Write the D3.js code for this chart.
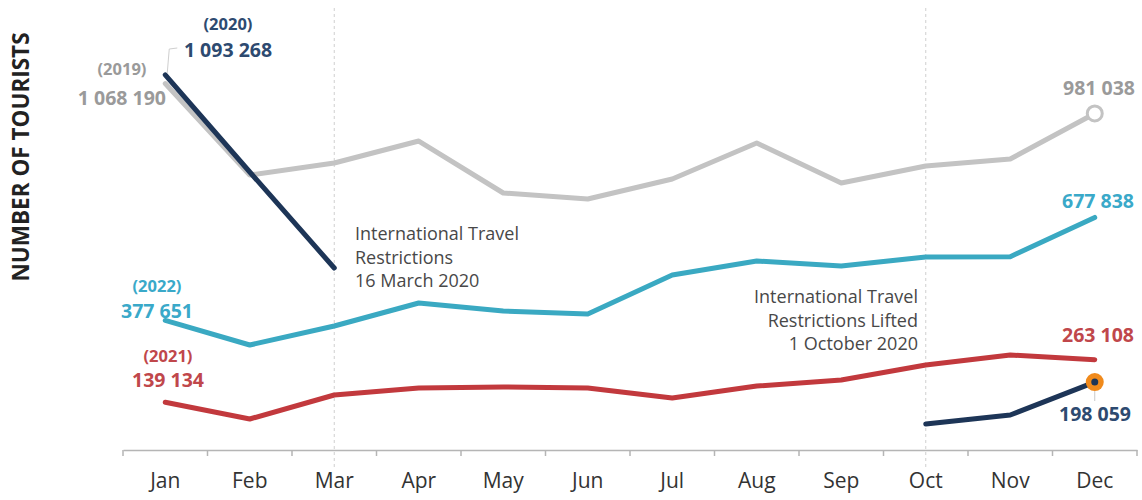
<!DOCTYPE html>
<html>
<head>
<meta charset="utf-8">
<script src="https://cdn.jsdelivr.net/npm/d3@7"></script>
<style>
  body { margin: 0; background: #fff; }
  svg { font-family: "Open Sans", "Noto Sans", sans-serif; }
</style>
</head>
<body>
<svg id="chart" width="1142" height="500"></svg>
<script>
const months = ["Jan", "Feb", "Mar", "Apr", "May", "Jun", "Jul", "Aug", "Sep", "Oct", "Nov", "Dec"];

// tourists per month
const y2019 = [1068190, 801500, 836500, 900600, 749100, 731600, 789900, 894800, 778200, 827800, 848200, 981038];
const y2020a = [1093268, 810300, 530500]; // Jan-Mar, before restrictions
const y2020b = [75800, 102000, 198059];   // Oct-Dec, after restrictions lifted
const y2021 = [139134, 90400, 160300, 180700, 183600, 180700, 151600, 186500, 204000, 247700, 276900, 263108];
const y2022 = [377651, 306000, 361400, 428500, 405100, 396400, 510000, 550900, 536300, 562500, 563500, 677838];

const svg = d3.select("#chart");

const x = d3.scaleBand().domain(months).range([123, 1137]);
const y = d3.scaleLinear().domain([0, 1300000]).range([450, 4]);
const cx = (m) => x(m) + x.bandwidth() / 2;

const colors = {
  y2019: "#c3c3c3",
  y2020: "#1d3557",
  y2021: "#c2393d",
  y2022: "#3aa9c2"
};

// dashed event lines (Mar and Oct)
["Mar", "Oct"].forEach((m) => {
  svg.append("line")
    .attr("x1", cx(m)).attr("x2", cx(m))
    .attr("y1", 8).attr("y2", 470)
    .attr("stroke", "#cfcfcf")
    .attr("stroke-width", 1)
    .attr("stroke-dasharray", "3,3");
});

// x axis
const axis = svg.append("g")
  .attr("transform", "translate(0,450)")
  .call(d3.axisBottom(x).tickSize(0).tickPadding(23));
axis.select(".domain").attr("stroke", "#b5b5b5").attr("stroke-width", 1.5);
axis.selectAll("text")
  .attr("font-size", 21)
  .attr("fill", "#333")
  .attr("font-family", "Open Sans, sans-serif");

// tick marks at band edges
svg.append("g")
  .selectAll("line")
  .data(months.map((m) => x(m)).concat([x.range()[1]]))
  .join("line")
  .attr("x1", (d) => d).attr("x2", (d) => d)
  .attr("y1", 450).attr("y2", 456)
  .attr("stroke", "#b5b5b5")
  .attr("stroke-width", 1.5);

// y axis title
svg.append("text")
  .attr("transform", "translate(29,157) rotate(-90)")
  .attr("text-anchor", "middle")
  .attr("font-size", 22.5)
  .attr("font-weight", 700)
  .attr("fill", "#222")
  .text("NUMBER OF TOURISTS");

const line = d3.line()
  .x((d) => cx(d.m))
  .y((d) => y(d.v));

function series(vals, startIdx) {
  return vals.map((v, i) => ({ m: months[startIdx + i], v }));
}

function drawLine(data, color) {
  svg.append("path")
    .datum(data)
    .attr("d", line)
    .attr("fill", "none")
    .attr("stroke", color)
    .attr("stroke-width", 5)
    .attr("stroke-linejoin", "round")
    .attr("stroke-linecap", "round");
}

drawLine(series(y2019, 0), colors.y2019);
drawLine(series(y2021, 0), colors.y2021);
drawLine(series(y2022, 0), colors.y2022);
drawLine(series(y2020a, 0), colors.y2020);
drawLine(series(y2020b, 9), colors.y2020);

// end markers
svg.append("circle")
  .attr("cx", cx("Dec")).attr("cy", y(y2019[11]))
  .attr("r", 7.5)
  .attr("fill", "#fff")
  .attr("stroke", colors.y2019)
  .attr("stroke-width", 3);

svg.append("line")
  .attr("x1", cx("Dec")).attr("x2", cx("Dec"))
  .attr("y1", y(y2020b[2])).attr("y2", 401)
  .attr("stroke", "#c9c9c9").attr("stroke-width", 1);
svg.append("circle")
  .attr("cx", cx("Dec")).attr("cy", y(y2020b[2]))
  .attr("r", 9)
  .attr("fill", "#f08a1c");
svg.append("circle")
  .attr("cx", cx("Dec")).attr("cy", y(y2020b[2]))
  .attr("r", 3.5)
  .attr("fill", colors.y2020);

// leader for the 2020 start label
svg.append("path")
  .attr("d", `M${cx("Jan") + 2},${y(y2020a[0]) - 2} L${cx("Jan") + 4},49 L${cx("Jan") + 12},48`)
  .attr("fill", "none")
  .attr("stroke", "#cfcfcf")
  .attr("stroke-width", 1);

const fmt = (v) => d3.format(",")(v).replace(/,/g, " ");

function label(txt, px, py, color, size, anchor) {
  svg.append("text")
    .attr("x", px).attr("y", py)
    .attr("text-anchor", anchor || "middle")
    .attr("font-size", size)
    .attr("font-weight", 700)
    .attr("fill", color)
    .text(txt);
}

// start labels
label("(2020)", 228, 30, "#2d4a70", 16.5);
label(fmt(y2020a[0]), 228, 57, "#2d4a70", 19.5);
label("(2019)", 122, 75, "#9a9a9a", 16.5);
label(fmt(y2019[0]), 166, 105, "#9a9a9a", 19.5, "end");
label("(2022)", 157, 292, "#3aa9c9", 16.5);
label(fmt(y2022[0]), 157, 318, "#3aa9c9", 19.5);
label("(2021)", 168, 362, "#c0474b", 16.5);
label(fmt(y2021[0]), 168, 387, "#c0474b", 19.5);

// end labels
label(fmt(y2019[11]), 1099, 95, "#9a9a9a", 19.5);
label(fmt(y2022[11]), 1098, 208, "#3aa9c9", 19.5);
label(fmt(y2021[11]), 1098, 342, "#c0474b", 19.5);
label(fmt(y2020b[2]), 1095, 421, "#2d4a70", 19.5);

// annotations
function note(lines, px, py, anchor) {
  const t = svg.append("text")
    .attr("x", px).attr("y", py)
    .attr("text-anchor", anchor)
    .attr("font-size", 18)
    .attr("fill", "#484848");
  lines.forEach((s, i) => {
    t.append("tspan").attr("x", px).attr("dy", i === 0 ? 0 : 23.5).text(s);
  });
}

note(["International Travel", "Restrictions", "16 March 2020"], 355, 240, "start");
note(["International Travel", "Restrictions Lifted", "1 October 2020"], 918, 303, "end");
</script>
</body>
</html>
